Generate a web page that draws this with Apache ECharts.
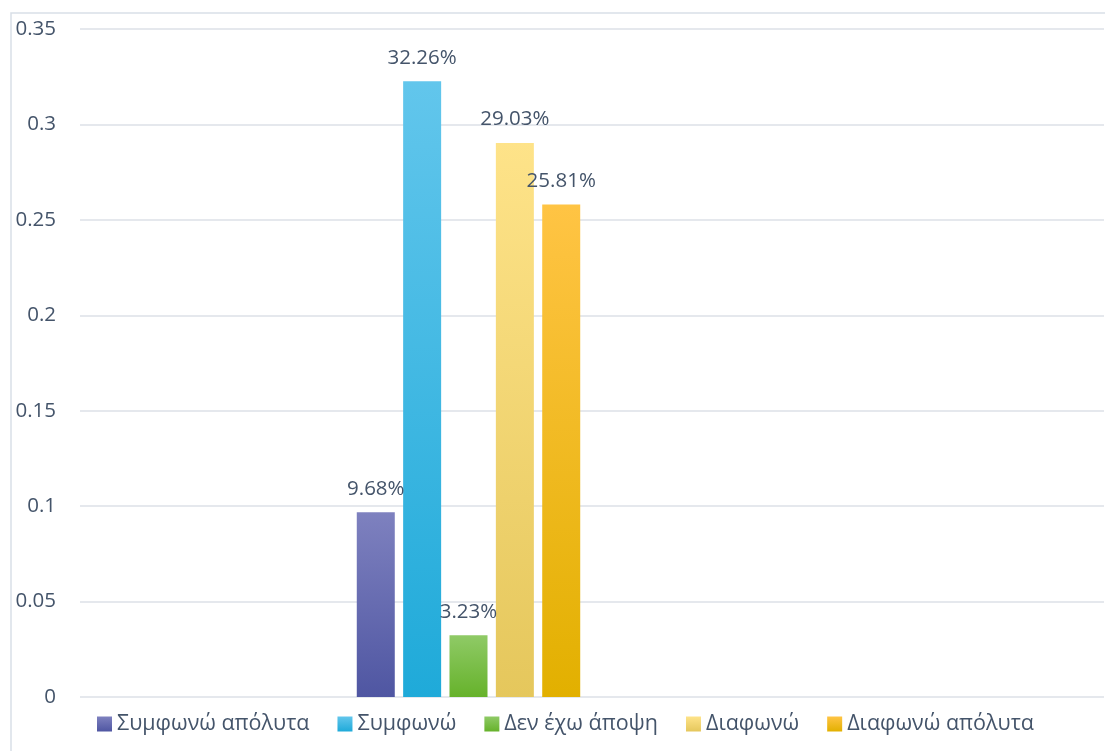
<!DOCTYPE html>
<html>
<head>
<meta charset="utf-8">
<script src="https://cdn.jsdelivr.net/npm/echarts@6/dist/echarts.min.js"></script>
<style>
html,body{margin:0;padding:0;background:#fff;}
#chart{width:1105px;height:751px;}
</style>
</head>
<body>
<div id="chart"></div>
<script>
const categories = [''];
const seriesNames = ['Συμφωνώ απόλυτα', 'Συμφωνώ', 'Δεν έχω άποψη', 'Διαφωνώ', 'Διαφωνώ απόλυτα'];
const seriesValues = [0.0968, 0.3226, 0.0323, 0.2903, 0.2581];
const yTicks = { min: 0, max: 0.35, interval: 0.05 };
const gradients = [
  ['#7e81bf', '#4f56a2'],
  ['#62c6ec', '#1faad9'],
  ['#8fca66', '#66b22b'],
  ['#fee389', '#e5c75c'],
  ['#ffc444', '#e2b000']
];

const textColor = '#44546a';
const fontFamily = '"Open Sans", sans-serif';

function grad(c) {
  return new echarts.graphic.LinearGradient(0, 0, 0, 1, [
    { offset: 0, color: c[0] },
    { offset: 1, color: c[1] }
  ]);
}

const chart = echarts.init(document.getElementById('chart'));
const option = {
  animation: false,
  backgroundColor: '#ffffff',
  textStyle: { fontFamily: fontFamily },
  graphic: [{
    type: 'rect',
    shape: { x: 11, y: 13, width: 1200, height: 800 },
    style: { fill: 'none', stroke: '#d9dfe7', lineWidth: 1.5 },
    silent: true
  }],
  grid: [
    { left: 80, right: 1, top: 29, bottom: 54 },
    { left: 80, width: 777, top: 29, bottom: 54 }
  ],
  legend: {
    data: seriesNames,
    left: 92,
    top: 708,
    icon: 'rect',
    itemWidth: 15,
    itemHeight: 15,
    itemGap: 28,
    textStyle: { color: textColor, fontSize: 21.5, fontFamily: fontFamily }
  },
  xAxis: [
    { type: 'category', gridIndex: 0, data: categories, show: false },
    { type: 'category', gridIndex: 1, data: categories, show: false }
  ],
  yAxis: [
    {
      type: 'value', gridIndex: 0,
      min: yTicks.min, max: yTicks.max, interval: yTicks.interval,
      axisLine: { show: false }, axisTick: { show: false },
      axisLabel: { color: textColor, fontSize: 20.5, margin: 24, fontFamily: fontFamily },
      splitLine: { lineStyle: { color: '#dde1e7', width: 1.5 } }
    },
    {
      type: 'value', gridIndex: 1,
      min: yTicks.min, max: yTicks.max, interval: yTicks.interval,
      show: false, splitLine: { show: false }
    }
  ],
  series: seriesNames.map((name, i) => ({
    name: name,
    type: 'bar',
    xAxisIndex: 1,
    yAxisIndex: 1,
    barWidth: 38,
    barGap: '22%',
    data: [seriesValues[i]],
    itemStyle: { color: grad(gradients[i]) },
    label: {
      show: true,
      position: 'top',
      distance: 13,
      color: textColor,
      fontSize: 20.5,
      fontFamily: fontFamily,
      formatter: p => (p.value * 100).toFixed(2) + '%'
    }
  }))
};
chart.setOption(option);
</script>
</body>
</html>
